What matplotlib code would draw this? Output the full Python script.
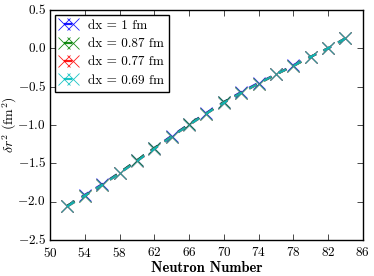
import matplotlib
matplotlib.use('Agg')
import matplotlib.pyplot as plt

# Charge radius differences vs neutron number for several grid spacings
neutrons = [52, 54, 56, 58, 60, 62, 64, 66, 68, 70, 72, 74, 76, 78, 80, 82, 84]
dr2_dx100 = [-2.05, -1.91, -1.77, -1.62, -1.46, -1.30, -1.14, -0.99, -0.84, -0.70, -0.57, -0.45, -0.34, -0.22, -0.11, 0.00, 0.13]
dr2_dx087 = [-2.05, -1.92, -1.78, -1.62, -1.46, -1.30, -1.15, -0.99, -0.85, -0.70, -0.58, -0.46, -0.34, -0.23, -0.11, 0.00, 0.13]
dr2_dx077 = [-2.06, -1.92, -1.78, -1.63, -1.47, -1.31, -1.15, -1.00, -0.85, -0.71, -0.58, -0.46, -0.34, -0.23, -0.11, 0.00, 0.13]
dr2_dx069 = [-2.06, -1.92, -1.78, -1.63, -1.47, -1.31, -1.15, -1.00, -0.85, -0.71, -0.58, -0.46, -0.34, -0.23, -0.11, 0.00, 0.13]
labels = ["dx = 1 fm", "dx = 0.87 fm", "dx = 0.77 fm", "dx = 0.69 fm"]
colors = ["b", "g", "r", "c"]

plt.style.use('classic')
plt.rcParams['font.family'] = 'serif'
plt.rcParams['font.serif'] = ['cmr10']
plt.rcParams['mathtext.fontset'] = 'cm'
plt.rcParams['axes.formatter.use_mathtext'] = True
plt.rcParams['font.size'] = 10

fig = plt.figure(figsize=(3.74, 2.76), dpi=100, facecolor='white')
ax = fig.add_axes([0.134, 0.13, 0.836, 0.834])

for series, lab, col in zip([dr2_dx100, dr2_dx087, dr2_dx077, dr2_dx069], labels, colors):
    ax.plot(neutrons, series, 'x--', color=col, label=lab, markersize=8,
            markeredgewidth=0.6, linewidth=1.6, alpha=0.9)

ax.set_xlim(50, 86)
ax.set_ylim(-2.5, 0.5)
ax.set_xticks(range(50, 87, 4))
ax.set_yticks([-2.5, -2.0, -1.5, -1.0, -0.5, 0.0, 0.5])
ax.tick_params(axis='x', labelsize=9.5, pad=4)
ax.tick_params(axis='y', labelsize=9.5, pad=3)
ax.set_xlabel("Neutron Number", fontname='cmb10', fontsize=10.5, labelpad=1)
ax.set_ylabel(r"$\delta r^2\ (\mathrm{fm}^2)$", fontsize=10)
ax.yaxis.set_label_coords(-0.1, 0.5)
ax.legend(loc='upper left', numpoints=2, fontsize=9.5, handlelength=1.3,
          borderaxespad=0.35, labelspacing=0.45, handletextpad=0.8, borderpad=0.4)

fig.savefig("out.png", dpi=100, facecolor='white')
